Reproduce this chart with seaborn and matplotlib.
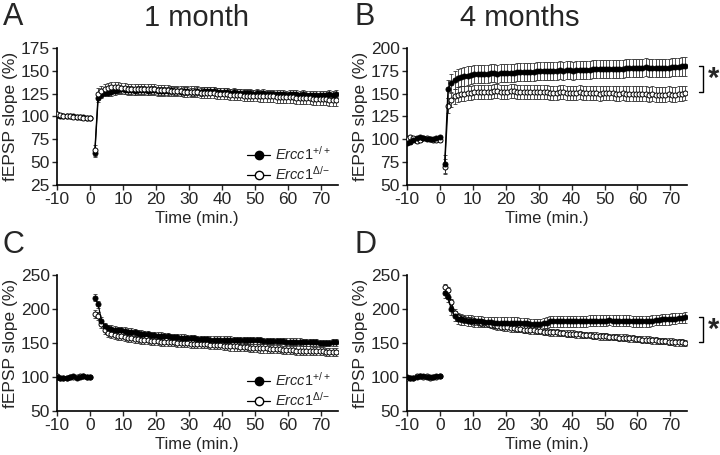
import numpy as np
import pandas as pd
import matplotlib
matplotlib.use("Agg")
import matplotlib.pyplot as plt
from matplotlib.lines import Line2D
import seaborn as sns

sns.set_style("ticks")
plt.rcParams['font.family'] = ['Liberation Sans', 'DejaVu Sans']
plt.rcParams['mathtext.fontset'] = 'custom'
plt.rcParams['mathtext.rm'] = 'Liberation Sans'
plt.rcParams['mathtext.it'] = 'Liberation Sans:italic'
plt.rcParams['axes.unicode_minus'] = False

# Time points (min)
base_t = np.arange(-10, 1, 1.0)
post_t = np.arange(1.5, 75, 1.0)

# Panel A: 1 month, LTP 1
A_wt_base = [102, 101, 100, 101, 100, 100, 99, 99, 99, 98, 98]
A_ko_base = [103, 102, 101, 100, 100, 99, 99, 99, 98, 98, 98]
A_wt_post = [60, 120, 124, 126, 126, 127, 128, 129, 130, 129,
             129, 129, 128, 129, 129, 129, 128, 129, 129, 128,
             128, 128, 128, 129, 128, 128, 127, 128, 128, 127,
             127, 128, 127, 128, 128, 128, 128, 127, 127, 127,
             127, 126, 127, 126, 126, 126, 126, 126, 125, 126,
             125, 126, 125, 125, 125, 125, 125, 125, 124, 125,
             125, 125, 124, 125, 124, 124, 124, 124, 124, 124,
             124, 125, 124, 125]
A_ko_post = [63, 125, 128, 130, 131, 132, 132, 132, 131, 131,
             130, 130, 130, 130, 130, 130, 130, 130, 130, 129,
             129, 129, 129, 128, 128, 128, 128, 127, 127, 127,
             127, 127, 126, 126, 126, 126, 126, 125, 125, 125,
             125, 124, 124, 124, 124, 123, 123, 123, 123, 123,
             122, 122, 122, 122, 122, 121, 121, 121, 121, 121,
             121, 120, 120, 120, 120, 120, 119, 119, 119, 119,
             119, 118, 118, 118]
A_base_sem = 1.5
A_wt_sem, A_ko_sem = 4, 6

# Panel B: 4 months, LTP 1
B_wt_base = [96, 97, 99, 101, 102, 101, 100, 100, 100, 101, 102]
B_ko_base = [100, 102, 101, 98, 99, 101, 101, 100, 99, 99, 99]
B_wt_post = [73, 155, 162, 165, 167, 168, 169, 170, 171, 172,
             172, 172, 172, 172, 173, 173, 172, 173, 173, 173,
             173, 173, 174, 174, 174, 174, 174, 174, 175, 175,
             175, 175, 175, 175, 175, 176, 175, 176, 176, 175,
             176, 176, 176, 176, 176, 177, 177, 177, 177, 177,
             177, 177, 177, 177, 177, 178, 178, 178, 178, 178,
             178, 179, 178, 178, 178, 178, 178, 178, 178, 179,
             179, 179, 180, 180]
B_ko_post = [70, 137, 143, 147, 149, 150, 150, 151, 151, 152,
             152, 152, 152, 152, 152, 153, 153, 152, 152, 152,
             153, 153, 152, 152, 152, 152, 152, 152, 152, 152,
             152, 152, 151, 151, 151, 152, 152, 151, 151, 151,
             151, 152, 151, 151, 151, 151, 151, 150, 151, 151,
             151, 151, 150, 150, 151, 150, 150, 150, 150, 150,
             150, 150, 149, 150, 149, 149, 149, 149, 150, 149,
             149, 150, 150, 151]
B_base_sem = 2
B_wt_sem, B_ko_sem = 10, 8

# Panel C: 1 month, LTP 2
C_wt_base = [100, 99, 98, 99, 100, 101, 99, 100, 101, 100, 100]
C_ko_base = [101, 99, 98, 98, 100, 100, 100, 101, 101, 100, 100]
C_wt_post = [217, 207, 183, 175, 172, 171, 170, 169, 169, 168,
             167, 167, 166, 165, 164, 163, 163, 162, 162, 161,
             161, 160, 160, 159, 159, 159, 158, 158, 157, 157,
             157, 156, 156, 156, 156, 155, 155, 155, 155, 155,
             155, 155, 154, 154, 154, 154, 154, 154, 154, 154,
             154, 153, 153, 153, 153, 153, 153, 153, 152, 152,
             152, 152, 152, 151, 151, 151, 151, 151, 150, 150,
             150, 150, 151, 151]
C_ko_post = [193, 190, 178, 170, 165, 163, 162, 160, 160, 159,
             158, 157, 156, 156, 155, 154, 154, 153, 153, 153,
             152, 152, 151, 151, 151, 150, 150, 150, 150, 149,
             149, 149, 148, 148, 148, 147, 147, 147, 147, 146,
             146, 145, 145, 145, 144, 144, 144, 143, 143, 143,
             142, 142, 142, 141, 141, 141, 141, 140, 140, 140,
             140, 139, 139, 139, 139, 139, 138, 138, 138, 138,
             137, 137, 137, 137]
C_base_sem = 1.5
C_wt_sem, C_ko_sem = 5, 6

# Panel D: 4 months, LTP 2
D_wt_base = [100, 99, 99, 100, 101, 101, 100, 100, 100, 101, 101]
D_ko_base = [99, 98, 99, 101, 102, 100, 101, 99, 100, 100, 101]
D_wt_post = [224, 218, 200, 190, 186, 185, 184, 183, 183, 182,
             182, 182, 181, 181, 181, 180, 180, 180, 180, 180,
             180, 180, 180, 179, 179, 179, 178, 178, 178, 178,
             179, 180, 182, 182, 182, 182, 182, 182, 182, 182,
             182, 182, 182, 182, 183, 183, 183, 183, 183, 183,
             184, 183, 183, 183, 183, 183, 183, 182, 182, 182,
             182, 182, 182, 183, 184, 184, 185, 185, 185, 186,
             186, 187, 187, 188]
D_ko_post = [232, 228, 210, 195, 188, 186, 185, 184, 183, 182,
             181, 180, 179, 178, 177, 176, 175, 174, 173, 173,
             172, 172, 171, 171, 170, 170, 169, 169, 168, 168,
             167, 167, 166, 166, 166, 165, 165, 164, 164, 164,
             163, 163, 162, 162, 162, 161, 161, 160, 160, 160,
             159, 159, 159, 158, 158, 158, 157, 157, 156, 156,
             155, 155, 155, 154, 154, 153, 153, 153, 152, 152,
             151, 151, 151, 150]
D_base_sem = 2
D_wt_sem, D_ko_sem = 8, 5

wt_label = r"$\mathit{Ercc1}^{+/+}$"
ko_label = r"$\mathit{Ercc1}^{\Delta/\mathrm{-}}$"


def make_df(base, post, base_sem, post_sem):
    return pd.DataFrame({
        "time": np.concatenate([base_t, post_t]),
        "slope": np.concatenate([base, post]),
        "sem": [base_sem] * len(base_t) + [post_sem] * len(post_t),
        "phase": ["base"] * len(base_t) + ["post"] * len(post_t),
    })


def draw_series(ax, base, post, base_sem, sem, face):
    df = make_df(base, post, base_sem, sem)
    ax.errorbar(df["time"], df["slope"], yerr=df["sem"], fmt="none", ecolor="#333333",
                elinewidth=0.6, capsize=1.3, capthick=0.6, zorder=2)
    sns.lineplot(data=df, x="time", y="slope", units="phase", estimator=None,
                 ax=ax, color="black", linewidth=0.9, marker="o", markersize=3.6,
                 markerfacecolor=face, markeredgecolor="black", markeredgewidth=0.7,
                 zorder=3)


def style_axis(ax, ylim, yticks):
    ax.set_xlim(-10, 75)
    ax.set_ylim(*ylim)
    ax.set_xticks(range(-10, 75, 10))
    ax.set_yticks(yticks)
    ax.set_xlabel("Time (min.)", fontsize=12, labelpad=3)
    ax.set_ylabel("fEPSP slope (%)", fontsize=12.5, labelpad=2)
    ax.tick_params(labelsize=12.5, length=3.5, width=1, pad=1.5, direction="out")
    for s in ["left", "bottom"]:
        ax.spines[s].set_linewidth(1.2)
        ax.spines[s].set_color("black")
    sns.despine(ax=ax)


def add_legend(ax):
    handles = [
        Line2D([], [], color="black", marker="o", markersize=6, linewidth=0.9,
               markerfacecolor="black", label=wt_label),
        Line2D([], [], color="black", marker="o", markersize=6, linewidth=0.9,
               markerfacecolor="white", label=ko_label),
    ]
    ax.legend(handles=handles, loc="lower right", frameon=False, fontsize=10.5,
              handlelength=1.6, handletextpad=0.3, labelspacing=0.15,
              borderaxespad=0.1, bbox_to_anchor=(1.0, -0.04))


def add_bracket(ax, y0, y1):
    x0, x1 = 1.045, 1.058
    ax.plot([x0, x1, x1, x0], [y1, y1, y0, y0], transform=ax.get_yaxis_transform(),
            color="black", linewidth=1.0, clip_on=False)
    ax.text(1.075, (y0 + y1) / 2, "*", transform=ax.get_yaxis_transform(),
            fontsize=21, ha="left", va="center", fontweight="bold")


fig = plt.figure(figsize=(7.2, 4.55), dpi=100)
axA = fig.add_axes([0.079, 0.594, 0.390, 0.300])
axB = fig.add_axes([0.565, 0.594, 0.389, 0.300])
axC = fig.add_axes([0.079, 0.097, 0.390, 0.298])
axD = fig.add_axes([0.565, 0.097, 0.389, 0.298])

draw_series(axA, A_wt_base, A_wt_post, A_base_sem, A_wt_sem, "black")
draw_series(axA, A_ko_base, A_ko_post, A_base_sem, A_ko_sem, "white")
style_axis(axA, (25, 175), range(25, 176, 25))
add_legend(axA)

draw_series(axB, B_ko_base, B_ko_post, B_base_sem, B_ko_sem, "white")
draw_series(axB, B_wt_base, B_wt_post, B_base_sem, B_wt_sem, "black")
style_axis(axB, (50, 200), range(50, 201, 25))
add_bracket(axB, 152, 180)

draw_series(axC, C_ko_base, C_ko_post, C_base_sem, C_ko_sem, "white")
draw_series(axC, C_wt_base, C_wt_post, C_base_sem, C_wt_sem, "black")
style_axis(axC, (50, 250), range(50, 251, 50))
add_legend(axC)

draw_series(axD, D_ko_base, D_ko_post, D_base_sem, D_ko_sem, "white")
draw_series(axD, D_wt_base, D_wt_post, D_base_sem, D_wt_sem, "black")
style_axis(axD, (50, 250), range(50, 251, 50))
add_bracket(axD, 152, 188)

# Panel letters and column titles
for x, y, s in [(0.004, 0.962, "A"), (0.493, 0.962, "B"),
                (0.004, 0.462, "C"), (0.493, 0.462, "D")]:
    fig.text(x, y, s, fontsize=22, ha="left", va="center")
fig.text(0.273, 0.960, "1 month", fontsize=21, ha="center", va="center")
fig.text(0.722, 0.960, "4 months", fontsize=21, ha="center", va="center")

fig.savefig("out.png", dpi=100)
